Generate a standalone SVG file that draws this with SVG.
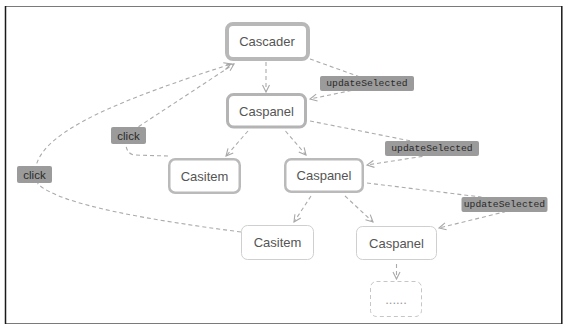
<svg xmlns="http://www.w3.org/2000/svg" width="566" height="331" viewBox="0 0 566 331">
  <style>
    .node rect { fill: #ffffff; stroke: #b4b4b4; }
    .node text { font-family: "Liberation Sans", Arial, sans-serif; font-size: 13px; fill: #555555; text-anchor: middle; dominant-baseline: central; }
    .lvl0 rect { stroke-width: 4; stroke: #b8b8b8; }
    .lvl1 rect { stroke-width: 3; stroke: #b4b4b4; }
    .lvl2 rect { stroke-width: 2.5; stroke: #bababa; }
    .lvl3 rect { stroke-width: 1; stroke: #cfcfcf; }
    .more rect { stroke-width: 1; stroke: #c6c6c6; stroke-dasharray: 4 3; }
    .more text { fill: #999999; }
    .edge { fill: none; stroke: #ababab; stroke-width: 1.1; stroke-dasharray: 4 3; marker-end: url(#arrow); }
    .tag rect { fill: #9b9b9b; }
    .tag text { fill: #2a2a2a; text-anchor: middle; dominant-baseline: central; }
    .mono text { font-family: "Liberation Mono", "DejaVu Sans Mono", monospace; font-size: 9.7px; }
    .sans text { font-family: "Liberation Sans", Arial, sans-serif; font-size: 11.5px; }
    .frame-h { stroke: #7a7a7a; stroke-width: 1.2; }
    .frame-v { stroke: #1a1a1a; stroke-width: 1.5; }
  </style>
  <defs>
    <marker id="arrow" markerUnits="userSpaceOnUse" markerWidth="10" markerHeight="10" refX="8" refY="5" orient="auto">
      <path d="M1,1.5 L8,5 L1,8.5" fill="none" stroke="#a8a8a8" stroke-width="1.1"/>
    </marker>
  </defs>

  <rect x="0" y="0" width="566" height="331" fill="#ffffff"/>

  <!-- outer frame -->
  <g id="frame">
    <line class="frame-h" x1="5" y1="6.5" x2="562" y2="6.5"/>
    <line class="frame-h" x1="5" y1="323.5" x2="562" y2="323.5"/>
    <line class="frame-v" x1="5.5" y1="6" x2="5.5" y2="324"/>
    <line class="frame-v" x1="561.8" y1="6" x2="561.8" y2="324"/>
  </g>

  <!-- connectors -->
  <g id="connectors">
    <path class="edge" d="M266,62 L266,92"/>
    <path class="edge" d="M248,131 L226,156"/>
    <path class="edge" d="M285.5,131 L306,155"/>
    <path class="edge" d="M311,196 L294,222"/>
    <path class="edge" d="M345,196 L373,222"/>
    <path class="edge" d="M396.5,264 L396.5,279"/>
    <!-- updateSelected flows back up to the parent panel -->
    <path class="edge" d="M310,59 L360,77 L354,90 L310,99"/>
    <path class="edge" d="M310,121 L411,141 L425,156 L367,165"/>
    <path class="edge" d="M367,183 L481,197 L504,212 L439,228"/>
    <!-- click events from items to the cascader -->
    <path class="edge" d="M168,156 L134,155 Q126,153 126,144 L138,127 L234,64"/>
    <path class="edge" d="M241,232 C150,220 60,205 38,184 L36,166 C45,130 120,100 231,64"/>
  </g>

  <!-- edge labels -->
  <g id="label-update-1" class="tag mono">
    <rect x="320" y="76" width="94" height="15" rx="2"/>
    <text x="367" y="83.5">updateSelected</text>
  </g>
  <g id="label-update-2" class="tag mono">
    <rect x="385" y="141" width="94" height="15" rx="2"/>
    <text x="432" y="148.5">updateSelected</text>
  </g>
  <g id="label-update-3" class="tag mono">
    <rect x="461.5" y="197" width="86" height="15" rx="2"/>
    <text x="504.5" y="204.5">updateSelected</text>
  </g>
  <g id="label-click-1" class="tag sans">
    <rect x="111" y="127" width="35" height="17" rx="2"/>
    <text x="128.5" y="135.5">click</text>
  </g>
  <g id="label-click-2" class="tag sans">
    <rect x="17" y="166" width="35" height="17" rx="2"/>
    <text x="34.5" y="174.5">click</text>
  </g>

  <!-- nodes -->
  <g id="cascader" class="node lvl0">
    <rect x="227" y="24" width="81" height="35" rx="6"/>
    <text x="267" y="41.5">Cascader</text>
  </g>
  <g id="caspanel-1" class="node lvl1">
    <rect x="227.5" y="94.5" width="78" height="32.5" rx="6"/>
    <text x="266.5" y="111">Caspanel</text>
  </g>
  <g id="casitem-1" class="node lvl2">
    <rect x="169.25" y="159.25" width="70.5" height="33.5" rx="6"/>
    <text x="204.5" y="176.5">Casitem</text>
  </g>
  <g id="caspanel-2" class="node lvl2">
    <rect x="285.25" y="159.25" width="77.5" height="32.5" rx="6"/>
    <text x="324" y="175.5">Caspanel</text>
  </g>
  <g id="casitem-2" class="node lvl3">
    <rect x="241.5" y="225.5" width="72" height="34" rx="6"/>
    <text x="277.5" y="242.5">Casitem</text>
  </g>
  <g id="caspanel-3" class="node lvl3">
    <rect x="356.5" y="226.5" width="80" height="33" rx="6"/>
    <text x="396.5" y="243">Caspanel</text>
  </g>
  <g id="more" class="node more">
    <rect x="370.5" y="281.5" width="51" height="35" rx="6"/>
    <text x="396" y="299">......</text>
  </g>
</svg>
